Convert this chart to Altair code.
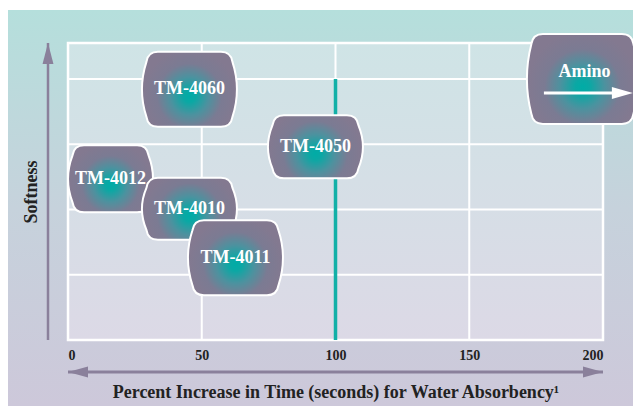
import altair as alt
import pandas as pd

# ---------------- data ----------------
labels = ["TM-4060", "TM-4050", "TM-4012", "TM-4010", "TM-4011", "Amino"]
absorbency = [45.4, 92.5, 15.9, 45.4, 62.6, 192.3]   # % increase in time
softness = [3.84, 2.96, 2.47, 2.01, 1.26, 4.0]

x_ticks = [0, 50, 100, 150, 200]
y_grid = [1, 2, 3, 4]
x_min, x_max = 0, 200
y_min, y_max = 0, 4.55
threshold_x = 100
threshold_top = 4

x_title = "Percent Increase in Time (seconds) for Water Absorbency\u00b9"
y_title = "Softness"

# ---------------- style ----------------
W, H = 535, 297
SVG_W, SVG_H = 625, 398
PAD = {"left": 60, "top": 35, "right": SVG_W - 60 - W, "bottom": SVG_H - 35 - H}
FONT = "Liberation Serif"
ARROW = "#8a809b"
TEAL = "#12b0a7"

# box pixel sizes (w, h) per label
box_px = {
    "TM-4060": (95, 75),
    "TM-4050": (95, 63),
    "TM-4012": (85, 67),
    "TM-4010": (95, 62),
    "TM-4011": (95, 75),
    "Amino": (111, 90),
}
UNIT = 60.0  # 1 path unit = 60 px when size = 120**2


def barrel(w, h, c=10.0, b=6.0):
    Wh, Hh = w / 2.0, h / 2.0
    a = Wh - b
    e = a + 1.5
    k = 2 * Wh - e
    pts = [
        ("M", [(-(a - c), -Hh)]),
        ("L", [(a - c, -Hh)]),
        ("Q", [(a, -Hh), (e, -Hh + c)]),
        ("Q", [(k, 0), (e, Hh - c)]),
        ("Q", [(a, Hh), (a - c, Hh)]),
        ("L", [(-(a - c), Hh)]),
        ("Q", [(-a, Hh), (-e, Hh - c)]),
        ("Q", [(-k, 0), (-e, -Hh + c)]),
        ("Q", [(-a, -Hh), (-(a - c), -Hh)]),
    ]
    s = ""
    for cmd, ps in pts:
        s += cmd + " ".join(f"{px / UNIT:.4f},{py / UNIT:.4f}" for px, py in ps)
    return s + "Z"


box_paths = [barrel(*box_px[l]) for l in labels]

box_fill = alt.Gradient(
    gradient="radial",
    x1=0.5, y1=0.57, r1=0, x2=0.5, y2=0.57, r2=0.5,
    stops=[
        alt.GradientStop(offset=0, color="#00aca6"),
        alt.GradientStop(offset=0.13, color="#0aa8a4"),
        alt.GradientStop(offset=0.4, color="#4c929f"),
        alt.GradientStop(offset=0.68, color="#7b7b93"),
        alt.GradientStop(offset=1, color="#837990"),
    ],
)

outer_fill = alt.Gradient(
    gradient="linear", x1=0, y1=0, x2=0, y2=1,
    stops=[
        alt.GradientStop(offset=0, color="#b5dfdc"),
        alt.GradientStop(offset=0.5, color="#c6d2dc"),
        alt.GradientStop(offset=1, color="#cdc8da"),
    ],
)
inner_fill = alt.Gradient(
    gradient="linear", x1=0, y1=0, x2=0, y2=1,
    stops=[
        alt.GradientStop(offset=0, color="#cfe4e6"),
        alt.GradientStop(offset=1, color="#dcd9e6"),
    ],
)

df = pd.DataFrame({"label": labels, "x": absorbency, "y": softness})
frame = pd.DataFrame({"x0": [x_min], "x1": [x_max], "y0": [y_min], "y1": [y_max]})
vgrid = pd.DataFrame({"x": x_ticks})
hgrid = pd.DataFrame({"y": y_grid})
thr = pd.DataFrame({"x": [threshold_x], "y0": [0], "y1": [threshold_top]})

xs = alt.Scale(domain=[x_min, x_max], nice=False, zero=False)
ys = alt.Scale(domain=[y_min, y_max], nice=False, zero=False)

x_axis = alt.Axis(
    values=x_ticks, format="d", grid=False, ticks=False, domain=False,
    labelFont=FONT, labelFontWeight="bold", labelFontSize=14, labelColor="#222222",
    labelPadding=8,
    title=x_title, titleFont=FONT, titleFontWeight="bold", titleFontSize=18,
    titleColor="#222222", titlePadding=21, zindex=1,
)
y_axis = alt.Axis(
    labels=False, grid=False, ticks=False, domain=False,
    title=y_title, titleFont=FONT, titleFontWeight="bold", titleFontSize=18,
    titleColor="#222222", titlePadding=28, zindex=1,
)

# outer background
outer = alt.Chart(frame).mark_rect(fill=outer_fill).encode(
    x=alt.value(-61), x2=alt.value(W + PAD["right"] + 2),
    y=alt.value(-33), y2=alt.value(H + PAD["bottom"]),
)

# plot-area background + frame
inner = alt.Chart(frame).mark_rect(fill=inner_fill, stroke="white", strokeWidth=2.5).encode(
    x=alt.X("x0:Q", scale=xs, axis=x_axis),
    x2="x1:Q",
    y=alt.Y("y0:Q", scale=ys, axis=y_axis),
    y2="y1:Q",
)

vlines = alt.Chart(vgrid).mark_rule(color="white", strokeWidth=2).encode(
    x="x:Q", y=alt.datum(y_min), y2=alt.datum(y_max)
)
hlines = alt.Chart(hgrid).mark_rule(color="white", strokeWidth=2).encode(
    y="y:Q", x=alt.datum(x_min), x2=alt.datum(x_max)
)

teal = alt.Chart(thr).mark_rule(color=TEAL, strokeWidth=3.5).encode(
    x="x:Q", y="y0:Q", y2="y1:Q"
)

boxes = alt.Chart(df).mark_point(
    filled=True, fill=box_fill, stroke="white", strokeWidth=2, opacity=1,
    size=UNIT * UNIT * 4,
).encode(
    x="x:Q", y="y:Q",
    shape=alt.Shape("label:N", scale=alt.Scale(domain=labels, range=box_paths), legend=None),
)

prod_text = alt.Chart(df).transform_filter(alt.datum.label != "Amino").mark_text(
    font=FONT, fontWeight="bold", fontSize=18, color="white"
).encode(x="x:Q", y="y:Q", text="label:N")

amino_text = alt.Chart(df).transform_filter(alt.datum.label == "Amino").mark_text(
    font=FONT, fontWeight="bold", fontSize=18, color="white", dx=2, dy=-7
).encode(x="x:Q", y="y:Q", text="label:N")

amino_shaft = alt.Chart(df).transform_filter(alt.datum.label == "Amino").mark_rule(
    color="white", strokeWidth=3, xOffset=-38.5, x2Offset=40, yOffset=14
).encode(x="x:Q", x2="x:Q", y="y:Q")

amino_head = alt.Chart(df).transform_filter(alt.datum.label == "Amino").mark_point(
    filled=True, fill="white", strokeWidth=0, opacity=1, size=441,
    shape="M0,0 L-2,-0.57 L-2,0.57 Z", xOffset=50.5, yOffset=14,
).encode(x="x:Q", y="y:Q")

# axis arrows
x_shaft = alt.Chart(frame).mark_rule(color=ARROW, strokeWidth=3).encode(
    x="x0:Q", x2="x1:Q", y=alt.value(H + 32)
)
x_head_l = alt.Chart(frame).mark_point(
    filled=True, fill=ARROW, strokeWidth=0, opacity=1, size=400,
    shape="M0,0 L2,-0.55 L2,0.55 Z",
).encode(x="x0:Q", y=alt.value(H + 32))
x_head_r = alt.Chart(frame).mark_point(
    filled=True, fill=ARROW, strokeWidth=0, opacity=1, size=400,
    shape="M0,0 L-2,-0.55 L-2,0.55 Z",
).encode(x="x1:Q", y=alt.value(H + 32))

y_shaft = alt.Chart(frame).mark_rule(color=ARROW, strokeWidth=2.5).encode(
    y="y0:Q", y2="y1:Q", x=alt.value(-20)
)
y_head = alt.Chart(frame).mark_point(
    filled=True, fill=ARROW, strokeWidth=0, opacity=1, size=441,
    shape="M0,0 L-0.52,2 L0.52,2 Z",
).encode(y="y1:Q", x=alt.value(-20))

chart = alt.layer(
    outer, inner, vlines, hlines, teal, boxes, prod_text,
    amino_text, amino_shaft, amino_head,
    x_shaft, x_head_l, x_head_r, y_shaft, y_head,
).properties(
    width=W, height=H,
    autosize=alt.AutoSizeParams(type="none"),
    padding=PAD,
    background="white",
).configure_view(stroke=None)

chart.save("out.html", embed_options={"renderer": "svg", "actions": False})
